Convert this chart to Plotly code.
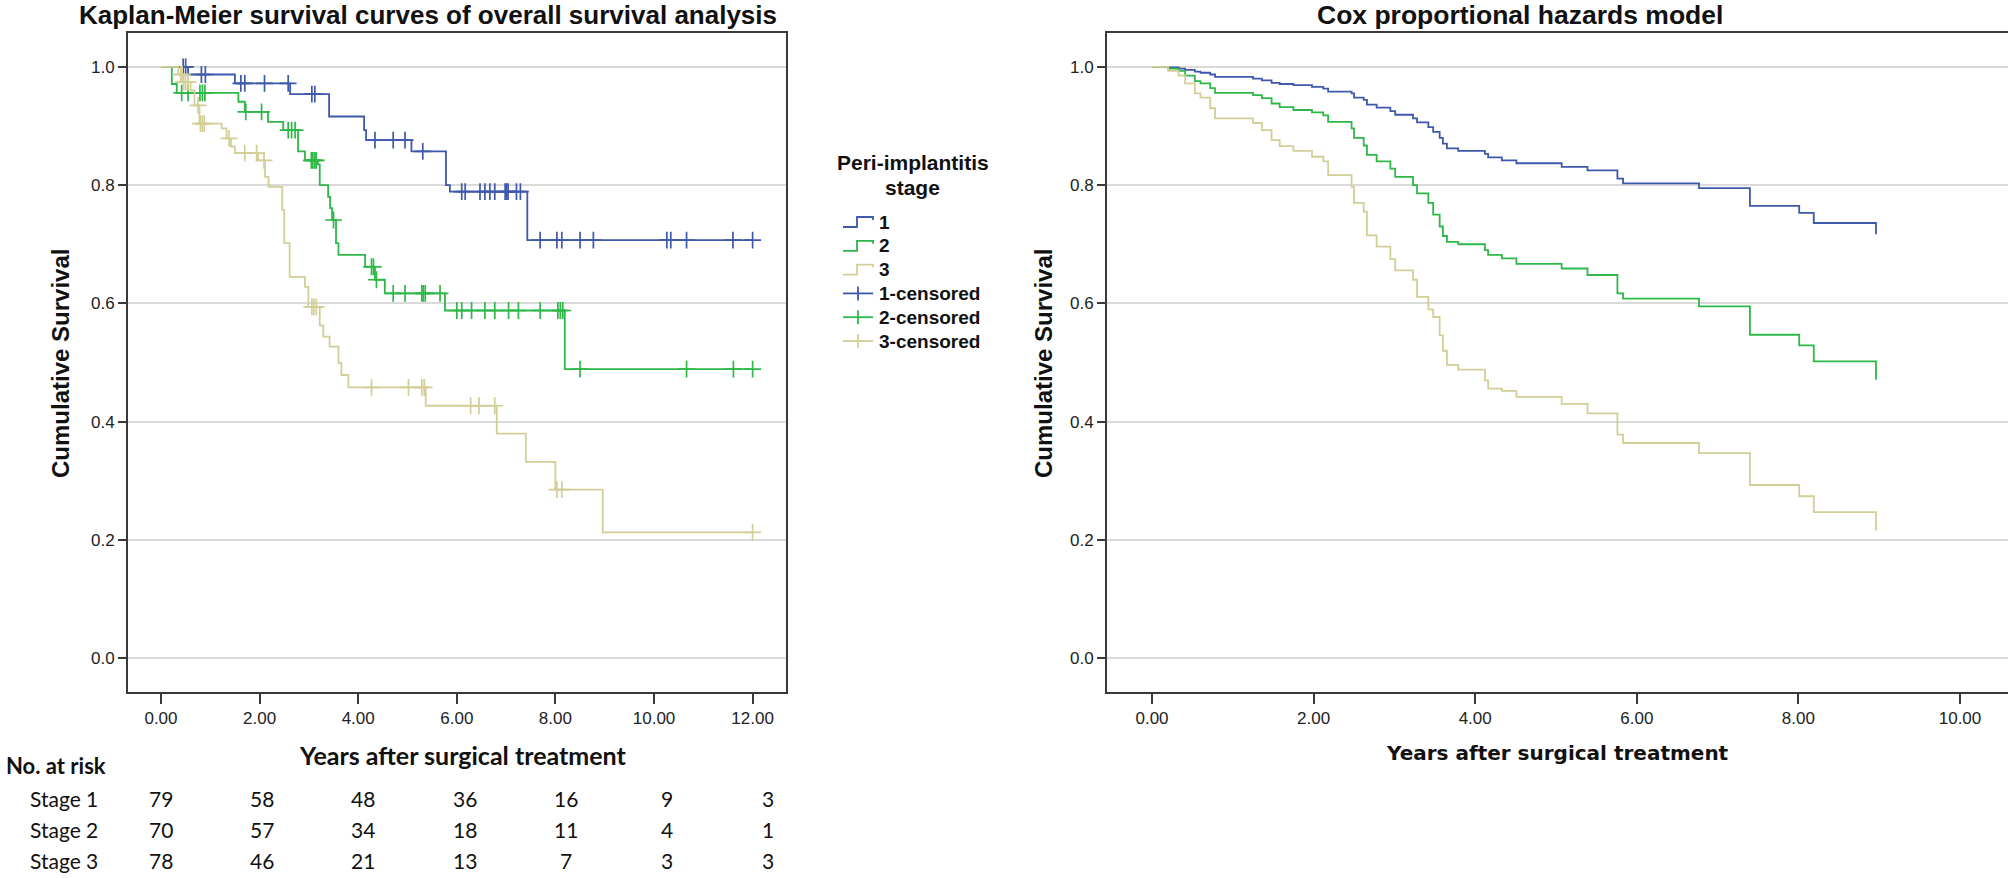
import plotly.graph_objects as go

# ---------------- data ----------------
# Kaplan-Meier step curves (event times in years, survival after each event)
km1_t = [0, 0.55, 1.50, 2.62, 3.41, 4.12, 4.16, 5.08, 5.78, 5.86, 7.43]
km1_s = [1.0, 0.987, 0.972, 0.954, 0.916, 0.893, 0.876, 0.857, 0.800, 0.789, 0.707]
km2_t = [0, 0.22, 0.32, 1.57, 1.70, 2.17, 2.48, 2.78, 2.92, 3.18, 3.22, 3.39, 3.43, 3.47,
         3.55, 3.60, 4.14, 4.34, 4.54, 5.76, 8.19]
km2_s = [1.0, 0.971, 0.956, 0.941, 0.924, 0.907, 0.893, 0.857, 0.842, 0.835, 0.800, 0.780,
         0.761, 0.741, 0.702, 0.682, 0.662, 0.640, 0.617, 0.588, 0.489]
km3_t = [0, 0.35, 0.45, 0.60, 0.68, 0.78, 1.23, 1.33, 1.42, 1.50, 1.97, 2.11, 2.18, 2.46,
         2.50, 2.61, 2.92, 2.99, 3.22, 3.29, 3.42, 3.60, 3.66, 3.80, 5.37, 6.81, 7.40, 8.00, 8.96]
km3_s = [1.0, 0.987, 0.974, 0.960, 0.935, 0.904, 0.896, 0.879, 0.865, 0.854, 0.842, 0.814,
         0.797, 0.758, 0.702, 0.645, 0.628, 0.594, 0.563, 0.544, 0.527, 0.499, 0.479, 0.458,
         0.427, 0.380, 0.332, 0.285, 0.213]
km_end = 12.0

cens1 = [0.45, 0.50, 0.82, 0.90, 1.62, 1.70, 2.10, 2.58, 3.06, 3.12, 4.34, 4.71, 4.95, 5.31,
         6.10, 6.17, 6.47, 6.57, 6.67, 6.77, 6.98, 7.01, 7.04, 7.21, 7.29, 7.69, 8.03, 8.13,
         8.50, 8.77, 10.26, 10.34, 10.66, 11.60, 12.0]
cens2 = [0.42, 0.55, 0.79, 0.84, 0.89, 1.72, 2.04, 2.58, 2.65, 2.72, 3.05, 3.08, 3.12, 3.15,
         3.50, 4.27, 4.31, 4.37, 4.71, 4.95, 5.29, 5.32, 5.36, 5.66, 6.00, 6.10, 6.30, 6.57,
         6.77, 7.05, 7.25, 7.69, 8.05, 8.10, 8.15, 8.50, 10.66, 11.61, 12.0]
cens3 = [0.40, 0.43, 0.46, 0.50, 0.55, 0.75, 0.80, 0.84, 0.88, 1.38, 1.70, 1.94, 2.09, 3.06,
         3.10, 3.15, 4.27, 5.02, 5.29, 5.34, 6.28, 6.45, 6.77, 8.03, 8.13, 12.0]

# Cox model curves (shared step times)
cox_t = [0, 0.20, 0.33, 0.41, 0.53, 0.60, 0.72, 0.78, 1.25, 1.36, 1.48, 1.58, 1.75, 1.98,
         2.12, 2.18, 2.47, 2.50, 2.62, 2.66, 2.78, 2.95, 3.01, 3.23, 3.28, 3.42, 3.48, 3.56,
         3.60, 3.65, 3.79, 4.12, 4.16, 4.33, 4.51, 5.07, 5.39, 5.76, 5.83, 6.77, 7.40, 8.01,
         8.19, 8.96]
cox1_s = [1.0, 0.999, 0.997, 0.995, 0.992, 0.990, 0.987, 0.983, 0.980, 0.977, 0.973, 0.971,
          0.969, 0.966, 0.963, 0.958, 0.955, 0.948, 0.944, 0.936, 0.931, 0.925, 0.919, 0.913,
          0.906, 0.898, 0.890, 0.880, 0.870, 0.862, 0.858, 0.853, 0.847, 0.842, 0.837, 0.831,
          0.825, 0.811, 0.803, 0.795, 0.765, 0.753, 0.736, 0.717]
cox2_s = [1.0, 0.997, 0.993, 0.985, 0.976, 0.972, 0.964, 0.956, 0.952, 0.947, 0.938, 0.932,
          0.927, 0.923, 0.918, 0.907, 0.896, 0.880, 0.867, 0.851, 0.840, 0.828, 0.814, 0.800,
          0.786, 0.770, 0.750, 0.730, 0.714, 0.704, 0.700, 0.690, 0.682, 0.676, 0.667, 0.659,
          0.648, 0.617, 0.608, 0.595, 0.547, 0.529, 0.502, 0.471]
cox3_s = [1.0, 0.993, 0.985, 0.972, 0.955, 0.948, 0.930, 0.913, 0.905, 0.893, 0.876, 0.866,
          0.858, 0.848, 0.840, 0.817, 0.797, 0.770, 0.755, 0.715, 0.696, 0.675, 0.656, 0.640,
          0.611, 0.590, 0.577, 0.546, 0.520, 0.496, 0.488, 0.470, 0.456, 0.452, 0.442, 0.430,
          0.414, 0.378, 0.364, 0.347, 0.293, 0.274, 0.247, 0.216]

stages = ["1", "2", "3"]
colors = ["#3E58AC", "#2EB848", "#D3CE97"]

# Number at risk table
risk_years = [0, 2, 4, 6, 8, 10, 12]
risk_labels = ["Stage 1", "Stage 2", "Stage 3"]
risk1 = [79, 58, 48, 36, 16, 9, 3]
risk2 = [70, 57, 34, 18, 11, 4, 1]
risk3 = [78, 46, 21, 13, 7, 3, 3]

x_ticks_left = [0, 2, 4, 6, 8, 10, 12]
x_ticks_right = [0, 2, 4, 6, 8, 10]
y_ticks = [0.0, 0.2, 0.4, 0.6, 0.8, 1.0]

# ---------------- helpers ----------------
W, H = 2008, 878


def px(x):
    return x / W


def py(y):
    return 1 - y / H


def step_value(times, surv, t):
    val = surv[0]
    for ti, si in zip(times, surv):
        if ti <= t:
            val = si
    return val


fig = go.Figure()

km_sets = [(km1_t, km1_s, cens1), (km2_t, km2_s, cens2), (km3_t, km3_s, cens3)]
for (tt, ss, cc), col, name in zip(km_sets, colors, stages):
    fig.add_trace(go.Scatter(
        x=tt + [km_end], y=ss + [ss[-1]], mode="lines", line=dict(color=col, width=1.8, shape="hv"),
        xaxis="x", yaxis="y", name=name, showlegend=False, hoverinfo="skip"))
    fig.add_trace(go.Scatter(
        x=cc, y=[step_value(tt, ss, c) for c in cc], mode="markers",
        marker=dict(symbol="cross-thin", size=12, line=dict(color=col, width=1.7), color=col),
        xaxis="x", yaxis="y", name=name + "-censored", showlegend=False, hoverinfo="skip"))

for ss, col, name in zip([cox1_s, cox2_s, cox3_s], colors, stages):
    fig.add_trace(go.Scatter(
        x=cox_t, y=ss, mode="lines", line=dict(color=col, width=1.8, shape="hv"),
        xaxis="x2", yaxis="y2", name=name, showlegend=False, hoverinfo="skip"))

AX = "#3a3a3a"
GRID = "#DADADA"
tickfont = dict(family="Liberation Sans, Arial, sans-serif", size=17, color="#222")

yrange = [-0.057, 1.0572]
fig.update_layout(
    width=W, height=H, margin=dict(l=0, r=0, t=0, b=0),
    paper_bgcolor="white", plot_bgcolor="white", showlegend=False,
    xaxis=dict(domain=[px(128), px(786)], range=[-0.669, 12.677], tickvals=x_ticks_left,
               ticktext=["%.2f" % v for v in x_ticks_left], ticks="outside", ticklen=10,
               tickwidth=2, tickcolor=AX, showline=True, linecolor=AX, linewidth=2,
               mirror=True, showgrid=False, zeroline=False, tickfont=tickfont, anchor="y"),
    yaxis=dict(domain=[py(692), py(33)], range=yrange, tickvals=y_ticks,
               ticktext=["%.1f" % v for v in y_ticks], ticks="outside", ticklen=8,
               tickwidth=2, tickcolor=AX, showline=True, linecolor=AX, linewidth=2,
               mirror=True, showgrid=True, gridcolor=GRID, gridwidth=2, zeroline=False,
               tickfont=tickfont, anchor="x"),
    xaxis2=dict(domain=[px(1107), 1.0], range=[-0.557, 10.594], tickvals=x_ticks_right,
                ticktext=["%.2f" % v for v in x_ticks_right], ticks="outside", ticklen=10,
                tickwidth=2, tickcolor=AX, showline=True, linecolor=AX, linewidth=2,
                mirror=True, showgrid=False, zeroline=False, tickfont=tickfont, anchor="y2"),
    yaxis2=dict(domain=[py(692), py(33)], range=yrange, tickvals=y_ticks,
                ticktext=["%.1f" % v for v in y_ticks], ticks="outside", ticklen=8,
                tickwidth=2, tickcolor=AX, showline=True, linecolor=AX, linewidth=2,
                mirror=False, showgrid=True, gridcolor=GRID, gridwidth=2, zeroline=False,
                tickfont=tickfont, anchor="x2"),
)

ann = []
ARIAL = "Liberation Sans, Arial, sans-serif"
CAL = "Lato, Carlito, Calibri, sans-serif"


def text(x, y, s, size, family=ARIAL, anchor="center", angle=0, color="#111"):
    ann.append(dict(x=px(x), y=py(y), xref="paper", yref="paper", text=s, showarrow=False,
                    xanchor=anchor, yanchor="middle", textangle=angle,
                    font=dict(family=family, size=size, color=color)))


# titles
text(428, 15, "<b>Kaplan-Meier survival curves of overall survival analysis</b>", 26)
text(1520, 15, "<b>Cox proportional hazards model</b>", 26.5)
# axis titles
text(60, 364, "<b>Cumulative Survival</b>", 24, angle=-90)
text(1043, 364, "<b>Cumulative Survival</b>", 24, angle=-90)
text(463, 755, "<b>Years after surgical treatment</b>", 25, family=CAL)
text(1557, 753, "<b>Years after surgical treatment</b>", 20, family="DejaVu Sans, Verdana, sans-serif")

# legend
text(913, 163, "<b>Peri-implantitis</b>", 21)
text(912, 187, "<b>stage</b>", 21)
legend_names = stages + [s + "-censored" for s in stages]
legend_colors = colors + colors
shapes = []
for i, (nm, col) in enumerate(zip(legend_names, legend_colors)):
    yc = 222 + i * 23.8
    text(877, yc, "<b>%s</b>" % nm, 19, anchor="left")
    if i < 3:
        path = "M %f %f L %f %f L %f %f L %f %f L %f %f" % (
            px(843), py(yc + 5), px(857), py(yc + 5), px(857), py(yc - 5),
            px(873), py(yc - 5), px(873), py(yc - 2))
        shapes.append(dict(type="path", path=path, xref="paper", yref="paper",
                           line=dict(color=col, width=1.8)))
    else:
        shapes.append(dict(type="line", x0=px(843), x1=px(873), y0=py(yc), y1=py(yc),
                           xref="paper", yref="paper", line=dict(color=col, width=1.8)))
        shapes.append(dict(type="line", x0=px(858), x1=px(858), y0=py(yc - 7), y1=py(yc + 7),
                           xref="paper", yref="paper", line=dict(color=col, width=1.8)))

# number at risk table
text(4, 765, "<b>No. at risk</b>", 22, family=CAL, anchor="left")
row_y = [798, 829, 860]
for lab, vals, yr in zip(risk_labels, [risk1, risk2, risk3], row_y):
    text(28, yr, lab, 21, family=CAL, anchor="left")
    for i, v in enumerate(vals):
        text(161 + 101.2 * i, yr, str(v), 21, family=CAL)

fig.update_layout(annotations=ann, shapes=shapes)
fig.write_html("out.html", config={"displayModeBar": False},
               post_script="document.body.style.margin='0px';document.body.style.overflow='hidden';")
